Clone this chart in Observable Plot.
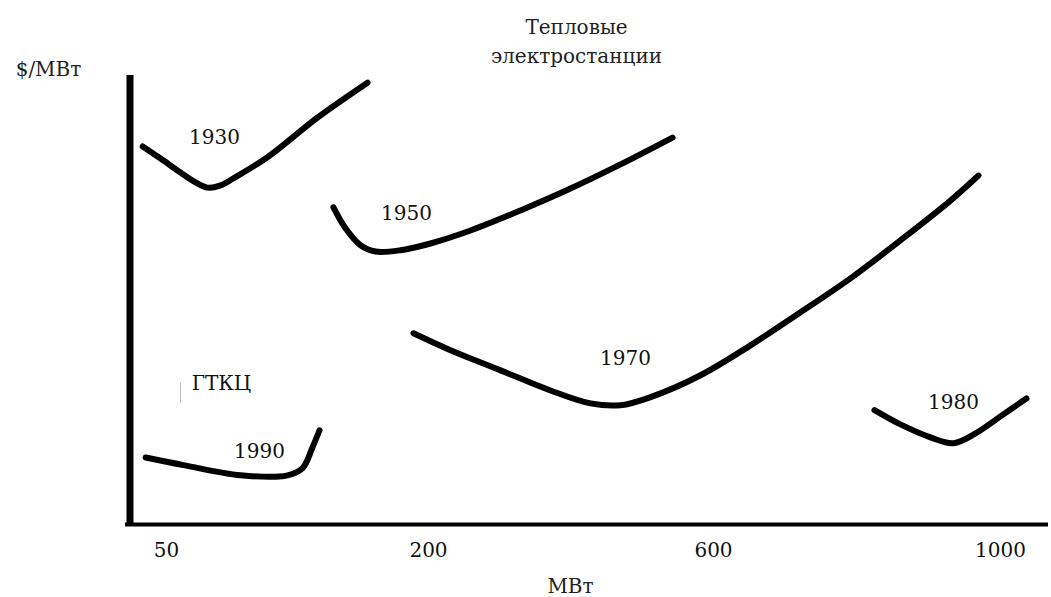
<!DOCTYPE html>
<html>
<head>
<meta charset="utf-8">
<script src="https://cdn.jsdelivr.net/npm/d3@7"></script>
<script src="https://cdn.jsdelivr.net/npm/@observablehq/plot@0.6"></script>
<style>
  body { margin: 0; background: #fff; font-family: "DejaVu Serif"; }
  #chart svg { display: block; }
</style>
</head>
<body>
<div id="chart"></div>
<script>
// ---- Data ----
const xTicks = [50, 200, 600, 1000];          // МВт tick labels
const titleLines = ["Тепловые", "электростанции"];
const yLabel = "$/МВт";
const xLabel = "МВт";

// Curves: capacity (МВт) and relative cost ($/МВт, arbitrary units 0–100)
const mw1930 = [36.3, 46.6, 58.0, 66.6, 73.5, 80.9, 88.4, 107.8, 136.5, 165.1];
const v1930  = [84.1, 81.4, 78.3, 76.1, 74.9, 75.4, 77.0, 81.7, 90.6, 98.4];

const mw1950 = [145.6, 152.5, 161.1, 169.7, 184.0, 202.8, 258.9, 329.1, 399.3, 469.5, 542.5];
const v1950  = [70.5, 65.8, 62.0, 60.6, 60.9, 62.4, 65.3, 69.8, 74.7, 80.1, 86.1];

const mw1970 = [191.4, 230.9, 301.1, 371.2, 427.4, 469.5, 511.6, 581.8, 651.6, 721.3, 790.9, 860.6, 930.3, 969.3];
const v1970  = [42.3, 38.5, 34.0, 29.5, 26.6, 26.2, 28.0, 32.9, 39.6, 47.0, 54.6, 63.1, 72.0, 77.6];

const mw1980 = [824.4, 860.6, 902.4, 934.5, 965.2, 1000, 1036.2];
const v1980  = [25.1, 21.9, 19.0, 17.7, 19.9, 23.7, 27.7];

const mw1990 = [38.0, 59.7, 92.4, 119.3, 127.9, 133.6, 137.6];
const v1990  = [14.5, 12.8, 10.5, 10.5, 12.1, 16.8, 20.6];

// Curve labels
const labelText = ["1930", "1950", "1970", "1980", "1990", "ГТКЦ"];
const labelMW   = [77.5, 187.4, 476.5, 934.5, 103.2, 81.5];
const labelV    = [86.1, 69.1, 36.7, 26.8, 15.9, 31.1];

// small stray tick next to "ГТКЦ"
const strayMW = [58.0];
const strayV1 = [31.1];
const strayV2 = [26.6];

// ---- Build tables ----
const series = [
  {year: "1930", mw: mw1930, v: v1930},
  {year: "1950", mw: mw1950, v: v1950},
  {year: "1970", mw: mw1970, v: v1970},
  {year: "1980", mw: mw1980, v: v1980},
  {year: "1990", mw: mw1990, v: v1990}
];
const rows = series.flatMap(s => s.mw.map((m, i) => ({year: s.year, mw: m, v: s.v[i]})));
const labels = labelText.map((t, i) => ({t, mw: labelMW[i], v: labelV[i]}));
const stray = strayMW.map((m, i) => ({mw: m, v1: strayV1[i], v2: strayV2[i]}));

const xDomain = [29, 50, 200, 600, 1000, 1067];
const yDomain = [-0.5, 100];

const font = "DejaVu Serif";
const fs = 20;

const chart = Plot.plot({
  width: 1051,
  height: 597,
  marginLeft: 125,
  marginRight: 3,
  marginTop: 75,
  marginBottom: 71,
  style: {fontFamily: font, fontSize: fs + "px", color: "#111", background: "#fff"},
  x: {type: "linear", domain: xDomain, range: [129.5, 166, 428, 713, 1000, 1048]},
  y: {domain: yDomain, range: [524, 75], axis: null},
  marks: [
    Plot.ruleX([xDomain[0]], {stroke: "#000", strokeWidth: 7}),
    Plot.ruleY([yDomain[0]], {stroke: "#000", strokeWidth: 4}),
    Plot.axisX(xTicks, {tickSize: 0, tickPadding: 16, fontSize: fs, fontFamily: font, label: null, tickFormat: d => String(d)}),
    Plot.line(rows, {x: "mw", y: "v", z: "year", stroke: "#000", strokeWidth: 6,
                     curve: "catmull-rom", strokeLinecap: "round", strokeLinejoin: "round"}),
    Plot.text(labels, {x: "mw", y: "v", text: "t", fontSize: fs, fontFamily: font, fill: "#111"}),
    Plot.ruleX(stray, {x: "mw", y1: "v1", y2: "v2", stroke: "#bbb", strokeWidth: 1}),
    Plot.text([titleLines.join("\n")], {text: d => d, frameAnchor: "top-left", textAnchor: "middle",
                     dx: 451, dy: -36, lineAnchor: "middle", lineHeight: 1.45, fontSize: fs, fontFamily: font, fill: "#222"}),
    Plot.text([yLabel], {text: d => d, frameAnchor: "top-left", textAnchor: "middle", dx: -77, dy: -6,
                     lineAnchor: "middle", fontSize: fs, fontFamily: font, fill: "#222"}),
    Plot.text([xLabel], {text: d => d, frameAnchor: "bottom-left", textAnchor: "middle", dx: 445, dy: 60,
                     lineAnchor: "middle", fontSize: fs, fontFamily: font, fill: "#222"})
  ]
});
document.getElementById("chart").appendChild(chart);
</script>
</body>
</html>
